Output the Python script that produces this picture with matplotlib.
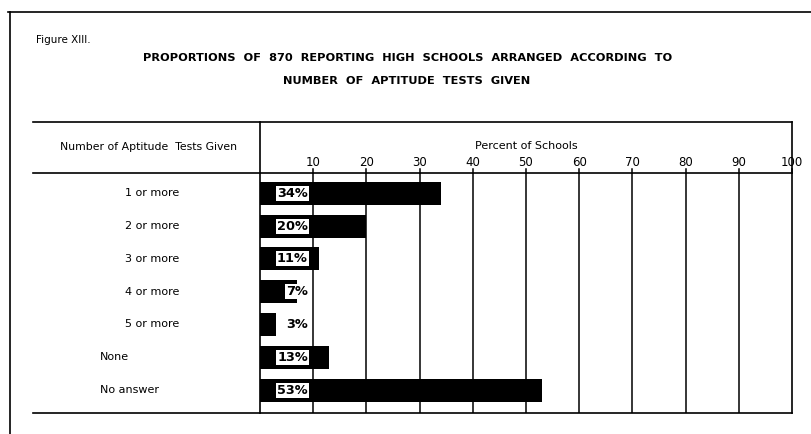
import matplotlib
matplotlib.use("Agg")
import matplotlib.pyplot as plt
from matplotlib.lines import Line2D
import matplotlib.transforms as mtransforms

categories = ["1 or more", "2 or more", "3 or more", "4 or more", "5 or more", "None", "No answer"]
percents = [34, 20, 11, 7, 3, 13, 53]
value_labels = ["34%", "20%", "11%", "7%", "3%", "13%", "53%"]
ticks = [10, 20, 30, 40, 50, 60, 70, 80, 90, 100]

W, H = 812, 434
fig = plt.figure(figsize=(W / 100, H / 100), dpi=100)
fig.patch.set_facecolor("white")

def fx(px):
    return px / W

def fy(py):
    return 1 - py / H

# bar axes region (pixels): x 260..792, y 173..413
x0, x1, y0, y1 = 260, 792, 173, 413
ax = fig.add_axes([fx(x0), fy(y1), fx(x1) - fx(x0), fy(y0) - fy(y1)])
ax.set_xlim(0, 100)
ax.set_ylim(6.70, -0.62)
for s in ax.spines.values():
    s.set_visible(False)
ax.set_xticks([])
ax.set_yticks([])
ax.patch.set_alpha(0)

ypos = list(range(len(categories)))
# grid lines
for t in ticks[:-1]:
    ax.axvline(t, color="black", lw=1.1, zorder=1)
ax.barh(ypos, percents, height=0.7, color="black", zorder=2)

for y, lab in zip(ypos, value_labels):
    ax.text(9.0, y, lab, ha="right", va="center", fontsize=9.3, fontweight="bold",
            color="black", zorder=3,
            bbox=dict(boxstyle="square,pad=0.08", fc="white", ec="none"))

# row labels
trans = mtransforms.blended_transform_factory(fig.transFigure, ax.transData)
for y, cat in zip(ypos, categories):
    if cat in ("None", "No answer"):
        ax.text(fx(100), y, cat, transform=trans, ha="left", va="center", fontsize=8)
    else:
        ax.text(fx(179), y, cat, transform=trans, ha="right", va="center", fontsize=8)

# tick labels above header rule
trans2 = mtransforms.blended_transform_factory(ax.transData, fig.transFigure)
for t in ticks:
    ax.text(t, fy(163), str(t), transform=trans2, ha="center", va="center", fontsize=8.5)
    ax.plot([t, t], [fy(y0), fy(y0 - 4)], transform=trans2, color="black", lw=1.1, clip_on=False)

# frame lines (figure pixel coordinates)
def hline(y, xa, xb, lw=1.2):
    fig.add_artist(Line2D([fx(xa), fx(xb)], [fy(y), fy(y)], color="black", lw=lw))

def vline(x, ya, yb, lw=1.2):
    fig.add_artist(Line2D([fx(x), fx(x)], [fy(ya), fy(yb)], color="black", lw=lw))

hline(12, 8, 812)
vline(10, 12, 434)
hline(122, 33, 792)
hline(y0, 33, 792)
hline(y1, 33, 792)
vline(x0, 122, y1)
vline(x1, 122, y1)

# texts
fig.text(fx(36), fy(40), "Figure XIII.", ha="left", va="center", fontsize=7.5)
fig.text(fx(408), fy(58), "PROPORTIONS  OF  870  REPORTING  HIGH  SCHOOLS  ARRANGED  ACCORDING  TO",
         ha="center", va="center", fontsize=8.2, fontweight="bold")
fig.text(fx(407), fy(81), "NUMBER  OF  APTITUDE  TESTS  GIVEN",
         ha="center", va="center", fontsize=8.2, fontweight="bold")
fig.text(fx(149), fy(147), "Number of Aptitude  Tests Given", ha="center", va="center", fontsize=7.8)
fig.text(fx(526), fy(146), "Percent of Schools", ha="center", va="center", fontsize=8)

fig.savefig("out.png", dpi=100, facecolor="white")
